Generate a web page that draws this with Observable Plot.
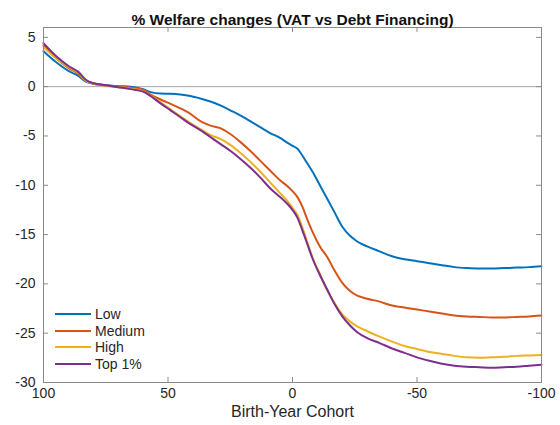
<!DOCTYPE html>
<html><head><meta charset="utf-8">
<script src="https://cdn.jsdelivr.net/npm/d3@7"></script>
<script src="https://cdn.jsdelivr.net/npm/@observablehq/plot@0.6"></script>
<style>
body{margin:0;background:#fff;font-family:"Liberation Sans",Arial,sans-serif}
#wrap{position:relative;width:560px;height:425px}
#legend{position:absolute;left:55px;top:306px;font-size:14px;color:#262626}
#legend .row{display:flex;align-items:center;height:16.5px}
#legend svg{margin-right:4px}
</style></head><body><div id="wrap"><div id="legend"></div></div>
<script>
const title = "% Welfare changes (VAT vs Debt Financing)";
const xLabel = "Birth-Year Cohort";
const groups = ["Low", "Medium", "High", "Top 1%"];
const colors = ["#0072BD", "#D95319", "#EDB120", "#7E2F8E"];
const xTicks = [100, 50, 0, -50, -100];
const yTicks = [5, 0, -5, -10, -15, -20, -25, -30];
const cohorts = [100,95,90,86,83,80,75,70,65,60,57,53,49,45,41,37,33,29,25,21,17,13,9,5,2,0,-2,-4,-6,-8,-11,-14,-17,-20,-23,-26,-30,-35,-40,-45,-50,-55,-60,-65,-70,-75,-80,-85,-90,-95,-100];
const low = [3.6,2.5,1.6,1.1,0.5,0.3,0.15,0.05,0.0,-0.25,-0.55,-0.7,-0.72,-0.8,-0.95,-1.2,-1.5,-1.9,-2.4,-2.9,-3.5,-4.1,-4.7,-5.2,-5.7,-6.0,-6.3,-7.0,-7.8,-8.6,-10.0,-11.4,-12.8,-14.2,-15.1,-15.7,-16.2,-16.7,-17.2,-17.5,-17.7,-17.9,-18.1,-18.3,-18.4,-18.45,-18.45,-18.4,-18.35,-18.3,-18.2];
const medium = [4.2,2.9,1.9,1.3,0.6,0.35,0.15,0.0,-0.1,-0.3,-0.8,-1.3,-1.75,-2.2,-2.75,-3.5,-3.95,-4.2,-4.8,-5.6,-6.5,-7.5,-8.5,-9.5,-10.1,-10.6,-11.2,-12.2,-13.5,-14.7,-16.2,-17.3,-18.7,-19.9,-20.7,-21.2,-21.5,-21.8,-22.2,-22.4,-22.6,-22.8,-23.0,-23.2,-23.3,-23.35,-23.4,-23.4,-23.35,-23.3,-23.2];
const high = [4.0,2.9,2.0,1.4,0.6,0.3,0.1,-0.05,-0.2,-0.45,-0.9,-1.6,-2.3,-3.0,-3.7,-4.3,-4.9,-5.3,-5.9,-6.7,-7.6,-8.6,-9.7,-10.8,-11.6,-12.3,-13.0,-14.3,-15.8,-17.3,-19.0,-20.7,-22.0,-23.1,-23.8,-24.3,-24.8,-25.35,-25.85,-26.3,-26.6,-26.9,-27.1,-27.3,-27.45,-27.5,-27.45,-27.4,-27.3,-27.25,-27.2];
const top1 = [4.4,3.1,2.1,1.5,0.7,0.35,0.15,-0.05,-0.25,-0.5,-0.95,-1.7,-2.4,-3.1,-3.8,-4.4,-5.1,-5.8,-6.5,-7.3,-8.2,-9.2,-10.3,-11.2,-11.9,-12.5,-13.3,-14.6,-16.0,-17.4,-19.1,-20.6,-22.1,-23.3,-24.2,-24.9,-25.5,-26.0,-26.55,-27.0,-27.45,-27.8,-28.1,-28.3,-28.4,-28.45,-28.5,-28.45,-28.4,-28.3,-28.2];

const seriesValues = [low, medium, high, top1];
const data = groups.flatMap((g, gi) => cohorts.map((c, i) => ({cohort: c, value: seriesValues[gi][i], group: g})));

const xDom = [100, -100], yDom = [-30, 6];
const ink = "#262626", axisGray = "#8a8a8a";
const fmt = d => String(d);

const chart = Plot.plot({
  width: 560, height: 425,
  marginLeft: 43, marginRight: 19, marginTop: 27, marginBottom: 43,
  style: {fontFamily: '"Liberation Sans", Arial, sans-serif', fontSize: "14px", color: ink, background: "white"},
  x: {domain: xDom, label: null},
  y: {domain: yDom, label: null},
  color: {domain: groups, range: colors},
  marks: [
    Plot.ruleY([0], {stroke: "#a8a8a8", strokeWidth: 1}),
    Plot.lineY(data, {x: "cohort", y: "value", z: "group", stroke: "group", strokeWidth: 2, curve: "monotone-x"}),
    Plot.frame({stroke: axisGray, strokeWidth: 1}),
    Plot.ruleY(yTicks, {y: d => d, x1: xDom[0], x2: xDom[0] - 2, stroke: axisGray}),
    Plot.ruleY(yTicks, {y: d => d, x1: xDom[1], x2: xDom[1] + 2, stroke: axisGray}),
    Plot.ruleX(xTicks, {x: d => d, y1: yDom[0], y2: yDom[0] + 0.5, stroke: axisGray}),
    Plot.ruleX(xTicks, {x: d => d, y1: yDom[1], y2: yDom[1] - 0.5, stroke: axisGray}),
    Plot.axisX({ticks: xTicks, tickFormat: fmt, tickSize: 0, tickPadding: 6, label: null, fontSize: 14, fill: ink}),
    Plot.axisY({ticks: yTicks, tickFormat: fmt, tickSize: 0, tickPadding: 8, label: null, fontSize: 14, fill: ink}),
    Plot.text([title], {frameAnchor: "top", dy: -14, fontWeight: "bold", fontSize: 15.5, fill: "#111"}),
    Plot.text([xLabel], {frameAnchor: "bottom", dy: 34, fontSize: 16, fill: ink})
  ]
});
document.getElementById("wrap").prepend(chart);

const legend = document.getElementById("legend");
groups.forEach((g, i) => {
  const row = document.createElement("div");
  row.className = "row";
  row.innerHTML = `<svg width="36" height="4"><line x1="0" x2="36" y1="2" y2="2" stroke="${colors[i]}" stroke-width="2"/></svg><span>${g}</span>`;
  legend.appendChild(row);
});
</script>
</body></html>
